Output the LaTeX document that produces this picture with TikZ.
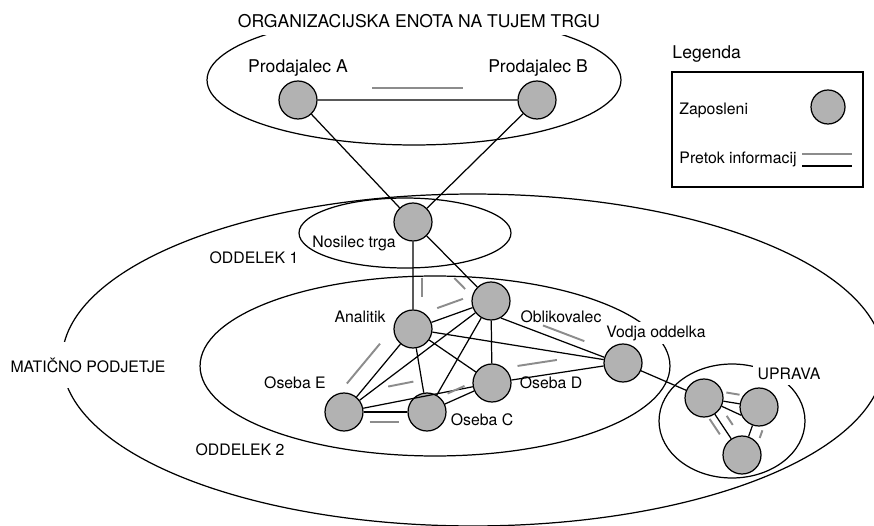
\documentclass[tikz,border=0pt]{standalone}
\usepackage{fontspec}
\setmainfont{TeX Gyre Heros}
\usetikzlibrary{calc}
% information flow mark beside a link: from, to, start, end, offset
\newcommand\tok[5]{\draw[tok]($(#1)!#3!(#2)!#5!90:(#2)$)--($(#1)!#4!(#2)!#5!90:(#2)$);}
\begin{document}
\begin{tikzpicture}[x=0.02cm,y=-0.02cm,line width=0.7pt,font=\fontsize{9}{11}\selectfont,
  zap/.style={circle,draw,fill=black!30,minimum size=0.76cm,inner sep=0pt},
  tok/.style={draw=black!45,line width=1.1pt},
  big/.style={font=\fontsize{10}{12}\selectfont}]
\useasboundingbox (0,0) rectangle (874,526);
% units
\draw (414,80) ellipse [x radius=4.14cm,y radius=1.3cm];
\draw (473,360) ellipse [x radius=8.22cm,y radius=3.32cm];
\draw (405,233) ellipse [x radius=2.12cm,y radius=0.7cm];
\draw (435,366) ellipse [x radius=4.7cm,y radius=1.8cm];
\draw (732,421) ellipse [x radius=1.46cm,y radius=1.14cm];
\node[big,fill=white,inner xsep=2pt,inner ysep=0.14cm] (enota) at (419,21) {ORGANIZACIJSKA ENOTA NA TUJEM TRGU};
\node[fill=white,inner xsep=2pt,inner ysep=0.32cm] (maticno) at (88,365) {MATIČNO PODJETJE};
\node (odd1) at (254,258) {ODDELEK 1};
\node (odd2) at (240,450) {ODDELEK 2};
\node[fill=white,inner sep=0.1cm] (uprava) at (789,374) {UPRAVA};
\node[fill=white,inner xsep=2pt,inner ysep=0.08cm] (lvodja) at (656,333) {Vodja oddelka};
% employees
\node[zap] (prodA) at (298,100) {};
\node[zap] (prodB) at (537,100) {};
\node[zap] (nosilec) at (413,222) {};
\node[zap] (analitik) at (413,329) {};
\node[zap] (oblik) at (491,301) {};
\node[zap] (vodja) at (623,363) {};
\node[zap] (osebaD) at (492,383) {};
\node[zap] (osebaC) at (427,412) {};
\node[zap] (osebaE) at (344,412) {};
\node[zap] (uprA) at (704,398) {};
\node[zap] (uprB) at (759,407) {};
\node[zap] (uprC) at (742,455) {};
\node[big] (lprodA) at (298,68) {Prodajalec A};
\node[big] (lprodB) at (538,68) {Prodajalec B};
\node (lnosilec) at (354,243) {Nosilec trga};
\node (lanalitik) at (360,317) {Analitik};
\node (loblik) at (561,317) {Oblikovalec};
\node (losebaD) at (551,383) {Oseba D};
\node (losebaC) at (482,420) {Oseba C};
\node (losebaE) at (295,383) {Oseba E};
% links
\draw (prodA)--(prodB) (prodA)--(nosilec) (prodB)--(nosilec)
  (nosilec)--(analitik) (nosilec)--(oblik) (analitik)--(oblik)
  (analitik)--(osebaE) (analitik)--(osebaC) (analitik)--(osebaD) (analitik)--(vodja.170)
  (oblik)--(osebaE) (oblik)--(osebaC) (oblik)--(osebaD) (oblik.-60)--(vodja.163)
  (osebaE)--(osebaD) (osebaC)--(osebaD) (osebaD)--(vodja) (vodja)--(uprA)
  (uprA)--(uprB) (uprA.-25)--(uprB.205) (uprA)--(uprC) (uprB)--(uprC);
\draw[line width=1.2pt] (osebaE)--(osebaC);
% information flow
\tok{prodA}{prodB}{0.31}{0.69}{0.24cm}
\tok{nosilec}{analitik}{0.52}{0.70}{0.18cm}
\tok{nosilec}{oblik}{0.62}{0.76}{-0.2cm}
\tok{analitik}{oblik}{0.36}{0.69}{0.23cm}
\tok{analitik}{osebaE}{0.30}{0.78}{-0.32cm}
\tok{osebaE}{osebaD}{0.32}{0.49}{0.33cm}
\tok{osebaC}{osebaD}{0.37}{0.63}{0.17cm}
\tok{osebaE}{osebaC}{0.31}{0.66}{-0.2cm}
\tok{oblik.-60}{vodja.163}{0.38}{0.78}{0.16cm}
\tok{osebaD}{vodja}{0.21}{0.51}{0.26cm}
\tok{uprA}{uprB}{0.38}{0.62}{0.18cm}
\tok{uprA}{uprC}{0.30}{0.57}{-0.14cm}
\tok{uprA}{uprC}{0.40}{0.56}{0.18cm}
\tok{uprB}{uprC}{0.41}{0.57}{0.22cm}
% legend
\node[big,anchor=west] (legenda) at (666,54) {Legenda};
\draw (672,72) rectangle (863,187);
\node[anchor=west] (zaposleni) at (673,110) {Zaposleni};
\node[zap,minimum size=0.68cm] (zapleg) at (828,107) {};
\node[anchor=west] (pretok) at (673,159) {Pretok informacij};
\draw[tok] (802,154)--(852,154);
\draw (802,166)--(852,166);
\end{tikzpicture}
\end{document}
